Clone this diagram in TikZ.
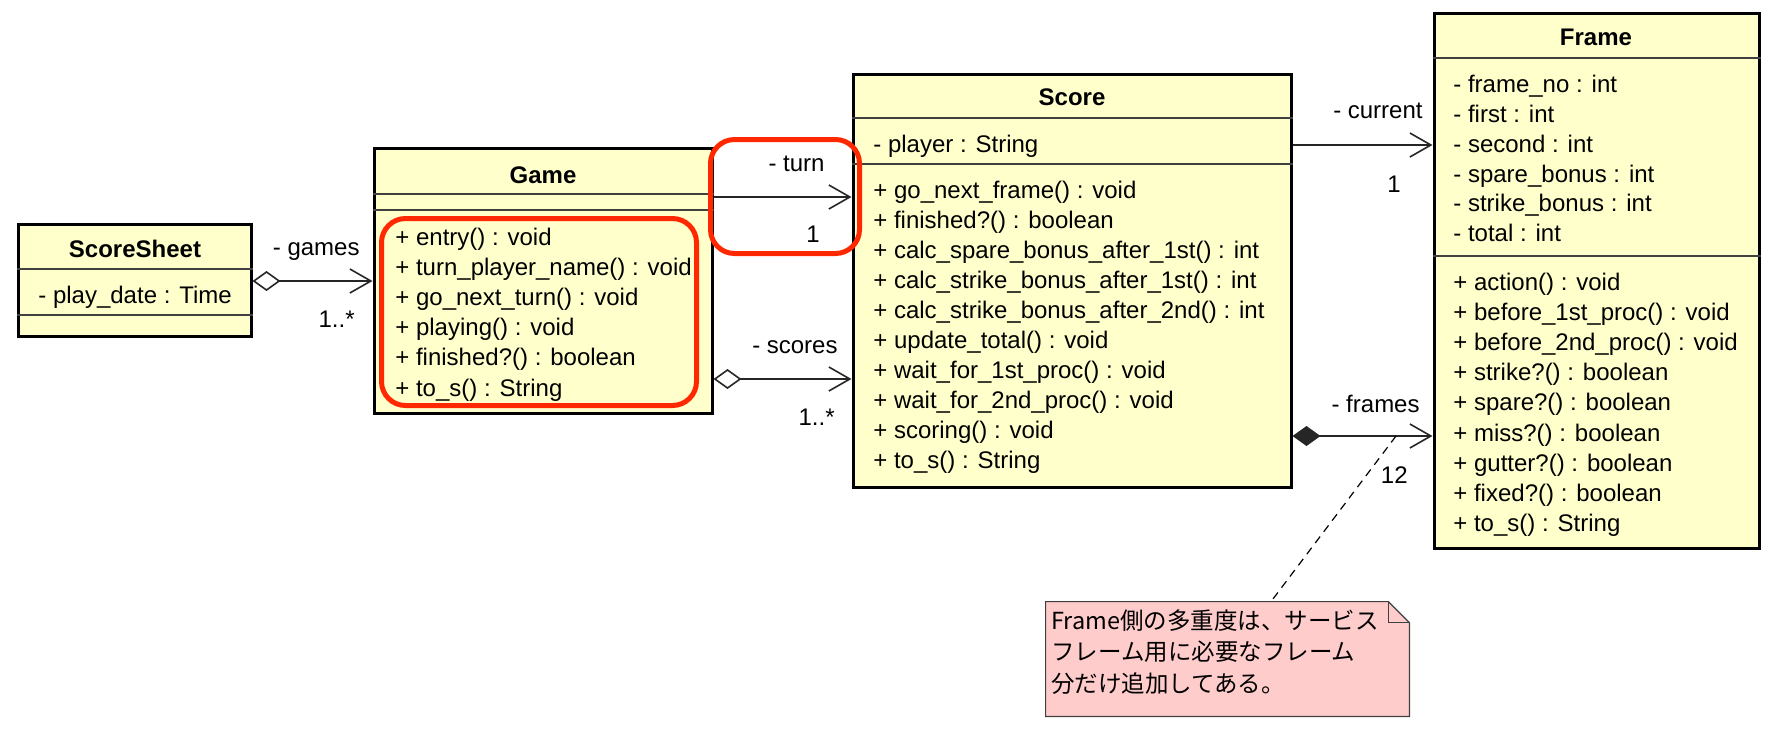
\documentclass[tikz,border=0pt]{standalone}
\usepackage{fontspec}
\setmainfont{Liberation Sans}
\newfontfamily\cjk{Noto Sans CJK JP}
\usetikzlibrary{arrows.meta,fit}

\definecolor{classfill}{RGB}{255,255,204}
\definecolor{notefill}{RGB}{255,204,204}
\definecolor{hilite}{RGB}{255,40,0}

\tikzstyle{classbox} = [draw=black, fill=classfill, line width=1.5pt, inner sep=0pt]
\tikzstyle{sep}      = [black!75, line width=0.6pt]
\tikzstyle{title}    = [font=\fontsize{12}{15}\selectfont\bfseries, inner sep=0pt, anchor=base]
\tikzstyle{member}   = [inner sep=0pt, anchor=base west]
\tikzstyle{role}     = [inner sep=0pt, anchor=base east]
\tikzstyle{assoc}    = [black!85, line width=0.8pt]
\tikzstyle{nav}      = [assoc, -{Straight Barb[length=10.5pt, width=12pt]}]
\tikzstyle{agg}      = [assoc, {Diamond[fill=white, length=14pt, width=10pt]}-{Straight Barb[length=10.5pt, width=12pt]}]
\tikzstyle{comp}     = [assoc, {Diamond[length=14pt, width=10pt]}-{Straight Barb[length=10.5pt, width=12pt]}]
\tikzstyle{marker}   = [draw=hilite, line width=2.5pt, rounded corners=12pt]
\tikzstyle{notebox}  = [draw=black!75, fill=notefill, line width=0.6pt]
\tikzstyle{notetext} = [member, font=\cjk\fontsize{11.75}{15}\selectfont]

\def\members#1#2#3#4#5{
  \foreach \t [count=\i from 0] in {#5}
    \node[member] (#1\i) at (#2, #3 + #4*\i) {\t};
}
\def\separator#1#2{ \draw[sep] (#1.west |- 0,#2) -- (#1.east |- 0,#2); }

\begin{document}
\begin{tikzpicture}[x=0.5pt, y=-0.5pt, font=\fontsize{12}{15}\selectfont]
  \useasboundingbox (0,0) rectangle (1785,752);

  % ScoreSheet
  \node[classbox, fit={(18,224) (251,336)}] (sheet) {};
  \separator{sheet}{269}
  \separator{sheet}{315}
  \node[title] (sheet-t) at (135,257) {ScoreSheet};
  \members{sheet-a}{38}{303}{30}{{- play\_date : Time}}

  % Game
  \node[classbox, fit={(374,148) (712,413)}] (game) {};
  \separator{game}{194}
  \separator{game}{210}
  \node[title] (game-t) at (543,183) {Game};
  \members{game-m}{395}{245}{30.2}{{+ entry() : void}, {+ turn\_player\_name() : void},
    {+ go\_next\_turn() : void}, {+ playing() : void}, {+ finished?() : boolean},
    {+ to\_s() : String}}

  % Score
  \node[classbox, fit={(853,74) (1291,487)}] (score) {};
  \separator{score}{118}
  \separator{score}{164}
  \node[title] (score-t) at (1072,105) {Score};
  \members{score-a}{873}{152}{30}{{- player : String}}
  \members{score-m}{873}{198}{30.1}{{+ go\_next\_frame() : void}, {+ finished?() : boolean},
    {+ calc\_spare\_bonus\_after\_1st() : int}, {+ calc\_strike\_bonus\_after\_1st() : int},
    {+ calc\_strike\_bonus\_after\_2nd() : int}, {+ update\_total() : void},
    {+ wait\_for\_1st\_proc() : void}, {+ wait\_for\_2nd\_proc() : void},
    {+ scoring() : void}, {+ to\_s() : String}}

  % Frame
  \node[classbox, fit={(1434,13) (1759,548)}] (frame) {};
  \separator{frame}{58}
  \separator{frame}{256}
  \node[title] (frame-t) at (1596,45) {Frame};
  \members{frame-a}{1453}{92.7}{29.8}{{- frame\_no : int}, {- first : int}, {- second : int},
    {- spare\_bonus : int}, {- strike\_bonus : int}, {- total : int}}
  \members{frame-m}{1453}{290}{30.2}{{+ action() : void}, {+ before\_1st\_proc() : void},
    {+ before\_2nd\_proc() : void}, {+ strike?() : boolean}, {+ spare?() : boolean},
    {+ miss?() : boolean}, {+ gutter?() : boolean}, {+ fixed?() : boolean},
    {+ to\_s() : String}}

  % associations
  \draw[agg]  (sheet.east |- 0,281) -- (game.west |- 0,281);
  \draw[nav]  (game.east |- 0,197)  -- (score.west |- 0,197);
  \draw[agg]  (game.east |- 0,379)  -- (score.west |- 0,379);
  \draw[nav]  (score.east |- 0,145) -- (frame.west |- 0,145);
  \draw[comp] (score.east |- 0,436) -- (frame.west |- 0,436);
  \node[role] (games-name)   at (360,255)  {- games};
  \node[role] (games-mult)   at (355,327)  {1..*};
  \node[role] (turn-name)    at (825,171)  {- turn};
  \node[role] (turn-mult)    at (820,242)  {1};
  \node[role] (scores-name)  at (838,353)  {- scores};
  \node[role] (scores-mult)  at (835,425)  {1..*};
  \node[role] (current-name) at (1423,118) {- current};
  \node[role] (current-mult) at (1401,192) {1};
  \node[role] (frames-name)  at (1420,412) {- frames};
  \node[role] (frames-mult)  at (1408,483) {12};

  % note
  \node[fit={(1046,602) (1409,716)}, inner sep=0pt] (note) {};
  \draw[notebox] (note.north west) -- ([xshift=-10.5pt]note.north east)
    -- ([yshift=-10.5pt]note.north east) -- (note.south east) -- (note.south west) -- cycle;
  \draw[notebox, fill=none] ([xshift=-10.5pt]note.north east) |- ([yshift=-10.5pt]note.north east);
  \foreach \t [count=\i from 0] in {Frame側の多重度は、サービス, フレーム用に必要なフレーム, 分だけ追加してある。}
    \node[notetext] (note-\i) at (1051, 629 + 31.5*\i) {\t};
  \coordinate (frames-pt) at (1396,436);
  \draw[black, line width=0.6pt, dash pattern=on 4pt off 3pt] (frames-pt) -- (note.north -| 1271,0);

  % highlights
  \draw[marker] (381.5,218.5) rectangle (696.5,405.5);
  \draw[marker] (710.5,139.5) rectangle (859.5,253.5);
\end{tikzpicture}
\end{document}
